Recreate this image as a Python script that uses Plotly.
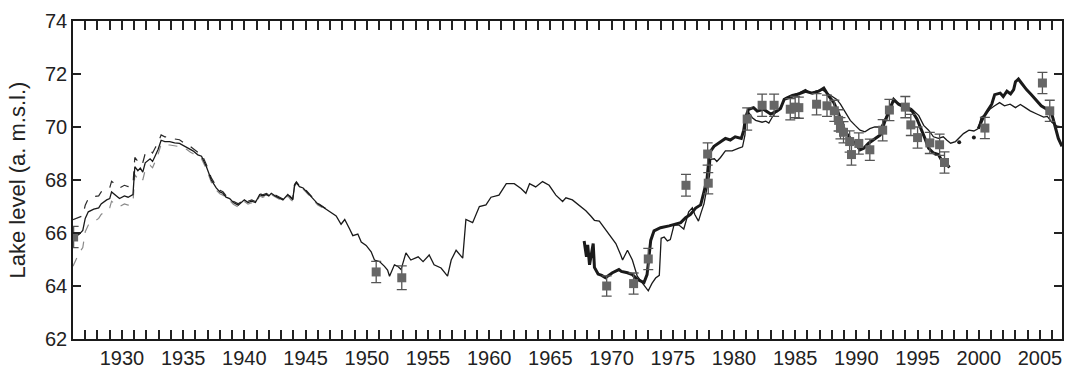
import plotly.graph_objects as go

# Lake level record (m a.m.s.l.)
# Main series: thin solid line 1926-2006
main_year = [
    1926.0, 1926.5, 1926.8, 1927.0, 1927.25, 1927.7, 1928.1, 1928.3, 1928.75, 1929.0,
    1929.15, 1929.55, 1929.8, 1930.2, 1930.5, 1930.9, 1931.05, 1931.3, 1931.5, 1931.7,
    1931.9, 1932.3, 1932.5, 1932.7, 1932.95, 1933.2, 1933.5, 1933.9, 1934.3, 1934.7,
    1935.0, 1935.3, 1935.6, 1935.8, 1936.2, 1936.5, 1936.9, 1937.3, 1937.7, 1938.0,
    1938.25, 1938.5, 1938.8, 1939.1, 1939.5, 1939.8, 1940.0, 1940.3, 1940.6, 1940.9,
    1941.25, 1941.5, 1941.8, 1942.0, 1942.2, 1942.5, 1942.75, 1943.15, 1943.55, 1943.8,
    1943.95, 1944.1, 1944.25, 1944.5, 1944.8, 1945.0, 1945.3, 1945.6, 1946.0, 1946.5,
    1946.96, 1947.2, 1947.5, 1947.9, 1948.2, 1948.6, 1948.86, 1949.27, 1949.55, 1949.95,
    1950.36, 1950.63, 1951.04, 1951.45, 1951.7, 1951.86, 1952.26, 1952.53, 1952.8, 1953.2,
    1953.6, 1954.2, 1954.6, 1955.1, 1955.5, 1956.07, 1956.6, 1956.9, 1957.3, 1957.84,
    1958.1, 1958.65, 1959.2, 1959.74, 1960.15, 1960.8, 1961.4, 1962.05, 1962.6, 1963.0,
    1963.3, 1963.8, 1964.36, 1964.9, 1965.45, 1966.0, 1966.27, 1966.8, 1967.35, 1967.9,
    1968.3, 1968.6, 1969.0, 1969.8, 1970.35, 1970.75, 1970.9, 1971.3, 1971.7, 1972.1,
    1972.5, 1973.0, 1973.3, 1973.6, 1973.9, 1974.05, 1974.3, 1974.56, 1974.8, 1975.1,
    1975.5, 1975.9, 1976.3, 1976.6, 1976.8, 1977.1, 1977.3, 1977.55, 1977.75, 1978.0,
    1978.1, 1978.4, 1978.6, 1978.9, 1979.3, 1979.85, 1980.4, 1980.7, 1980.9, 1980.95,
    1981.2, 1981.5, 1981.77, 1982.0, 1982.3, 1982.6, 1982.85, 1983.1, 1983.4, 1983.8,
    1984.2, 1984.75, 1985.3, 1985.84, 1986.24, 1986.7, 1987.2, 1987.6, 1988.0, 1988.4,
    1988.7, 1989.1, 1989.5, 1989.9, 1990.3, 1990.7, 1991.1, 1991.5, 1992.0, 1992.4,
    1992.75, 1993.0, 1993.4, 1994.0, 1994.5, 1995.1, 1995.5, 1995.9, 1996.3, 1996.7,
    1997.1, 1997.4, 1997.7, 1998.1, 1998.4, 1998.75, 1999.2, 1999.6, 1999.96, 2000.2,
    2000.5, 2000.9, 2001.3, 2001.7, 2002.1, 2002.56, 2003.0, 2003.4, 2003.8, 2004.2,
    2004.74, 2005.3, 2005.6, 2005.97, 2006.4, 2006.8,
]
main_level = [
    65.80, 65.95, 66.10, 66.55, 66.80, 66.90, 66.95, 67.10, 67.25, 67.30,
    67.55, 67.40, 67.30, 67.40, 67.35, 67.45, 68.50, 68.35, 68.45, 68.30,
    68.65, 68.80, 68.70, 68.90, 69.15, 69.50, 69.45, 69.45, 69.40, 69.38,
    69.30, 69.25, 69.15, 69.10, 68.95, 68.90, 68.50, 68.00, 67.70, 67.55,
    67.50, 67.35, 67.30, 67.15, 67.05, 67.15, 67.25, 67.15, 67.20, 67.15,
    67.45, 67.40, 67.45, 67.40, 67.50, 67.40, 67.35, 67.25, 67.45, 67.30,
    67.25, 67.80, 67.90, 67.75, 67.70, 67.60, 67.45, 67.30, 67.10, 66.95,
    66.82, 66.75, 66.64, 66.33, 66.51, 66.15, 65.90, 65.96, 65.66, 65.53,
    65.29, 64.98, 64.92, 64.74, 64.60, 64.37, 64.80, 64.74, 64.62, 65.25,
    64.98, 65.10, 64.92, 65.17, 64.80, 64.68, 64.37, 64.98, 65.35, 65.05,
    66.51, 66.39, 67.00, 67.06, 67.35, 67.43, 67.86, 67.86, 67.68, 67.50,
    67.86, 67.74, 67.94, 67.80, 67.43, 67.19, 67.33, 67.25, 67.06, 66.84,
    66.64, 66.48, 66.45, 65.96, 65.60, 65.17, 64.98, 65.35, 64.98, 64.37,
    64.13, 63.82, 64.10, 64.30, 64.40, 65.80, 65.85, 65.70, 65.75, 66.30,
    66.30, 66.15, 66.80, 66.95, 66.70, 66.45, 66.75, 67.10, 67.60, 68.15,
    68.78, 68.80, 68.70, 68.85, 69.10, 69.10, 69.20, 69.25, 69.70, 70.12,
    70.55, 70.35, 70.25, 70.22, 70.18, 70.22, 70.15, 70.35, 70.55, 70.73,
    71.10, 71.22, 71.28, 71.41, 71.28, 71.35, 71.41, 71.28, 71.16, 71.04,
    70.86, 70.55, 70.25, 70.06, 69.88, 69.82, 69.94, 70.00, 70.00, 70.37,
    70.80, 70.98, 70.90, 70.80, 70.70, 70.43, 70.06, 69.88, 69.63, 69.57,
    69.63, 69.50, 69.39, 69.45, 69.60, 69.75, 69.88, 69.85, 69.94, 70.37,
    70.45, 70.67, 70.80, 70.92, 70.80, 70.86, 70.73, 70.85, 70.73, 70.61,
    70.49, 70.37, 70.40, 70.18, 70.03, 70.00,
]

# Upper / lower bounds of the early reconstruction (dashed)
band_year = [
    1926.0, 1926.5, 1926.8, 1927.0, 1927.25, 1927.7, 1928.1, 1928.3, 1928.75, 1929.0,
    1929.15, 1929.55, 1929.8, 1930.2, 1930.5, 1930.9, 1931.05, 1931.3, 1931.5, 1931.7,
    1931.9, 1932.3, 1932.5, 1932.7, 1932.95, 1933.2, 1933.5, 1933.9, 1934.3, 1934.7,
    1935.0, 1935.3, 1935.6, 1935.8, 1936.2, 1936.5, 1936.9, 1937.3, 1937.7, 1938.0,
    1938.25, 1938.5, 1938.8, 1939.1, 1939.5, 1939.8, 1940.0, 1940.3, 1940.6, 1940.9,
    1941.25, 1941.5, 1941.8, 1942.0, 1942.2, 1942.5, 1942.75, 1943.15, 1943.55, 1943.8,
    1943.95, 1944.1, 1944.25, 1944.5, 1944.8, 1945.0, 1945.3, 1945.6, 1946.0, 1946.5,
    1946.96,
]
upper_level = [
    66.50, 66.60, 66.65, 67.05, 67.30, 67.38, 67.40, 67.55, 67.67, 67.70,
    67.95, 67.80, 67.70, 67.80, 67.75, 67.83, 68.85, 68.70, 68.80, 68.65,
    69.00, 69.13, 69.02, 69.20, 69.40, 69.70, 69.63, 69.61, 69.55, 69.52,
    69.42, 69.37, 69.26, 69.21, 69.05, 69.00, 68.58, 68.08, 67.77, 67.61,
    67.56, 67.41, 67.35, 67.20, 67.10, 67.20, 67.30, 67.20, 67.25, 67.19,
    67.49, 67.44, 67.49, 67.44, 67.54, 67.44, 67.38, 67.28, 67.48, 67.33,
    67.28, 67.83, 67.93, 67.78, 67.73, 67.63, 67.48, 67.33, 67.13, 66.97,
    66.84,
]
lower_level = [
    64.75, 65.25, 65.45, 66.05, 66.30, 66.45, 66.55, 66.70, 66.88, 66.95,
    67.20, 67.05, 67.00, 67.10, 67.05, 67.15, 68.20, 68.05, 68.15, 68.00,
    68.38, 68.55, 68.46, 68.68, 68.97, 69.35, 69.32, 69.32, 69.28, 69.26,
    69.20, 69.15, 69.05, 69.00, 68.85, 68.80, 68.42, 67.92, 67.62, 67.48,
    67.43, 67.28, 67.23, 67.08, 66.98, 67.08, 67.19, 67.09, 67.14, 67.09,
    67.40, 67.35, 67.40, 67.35, 67.45, 67.35, 67.30, 67.20, 67.40, 67.25,
    67.20, 67.76, 67.86, 67.71, 67.66, 67.56, 67.41, 67.26, 67.06, 66.92,
    66.79,
]

# Second series (thick line), 1967-1997
thick_a_year = [
    1967.76, 1967.95, 1968.05, 1968.2, 1968.5, 1968.6, 1968.9, 1969.2, 1969.5, 1970.07,
    1970.6, 1970.8, 1971.3, 1971.7, 1972.1, 1972.65, 1972.9, 1973.06, 1973.2, 1973.47,
    1974.0, 1974.7, 1975.24, 1975.65, 1976.05, 1976.45, 1976.87, 1977.28, 1977.55, 1977.8,
    1977.9, 1977.96, 1978.37, 1978.9, 1979.3, 1979.7, 1980.1, 1980.6, 1980.8, 1980.95,
    1981.2, 1981.6, 1981.9, 1982.4, 1983.0, 1983.5, 1983.8, 1984.1, 1984.75, 1985.4,
    1985.85, 1986.4, 1986.93, 1987.34, 1987.75, 1988.16, 1988.56, 1988.83, 1989.1, 1989.5,
    1989.9, 1990.3, 1990.6, 1991.0, 1991.55, 1991.95, 1992.36, 1992.6, 1992.9, 1993.05,
    1993.45, 1994.0, 1994.54, 1994.95, 1995.36, 1995.6, 1995.9, 1996.3, 1996.7, 1997.0,
    1997.4, 1997.6,
]
thick_a_level = [
    65.70, 65.10, 65.55, 64.80, 65.60, 64.70, 64.45, 64.40, 64.31, 64.50,
    64.62, 64.55, 64.50, 64.43, 64.25, 64.13, 64.43, 65.10, 65.72, 66.08,
    66.20, 66.27, 66.33, 66.39, 66.58, 66.70, 66.94, 67.06, 67.55, 68.04,
    68.53, 69.00, 69.27, 69.45, 69.57, 69.51, 69.63, 69.57, 69.88, 70.37,
    70.67, 70.73, 70.60, 70.67, 70.49, 70.60, 70.70, 71.04, 71.16, 71.28,
    71.35, 71.28, 71.35, 71.47, 71.16, 70.92, 70.49, 70.12, 69.82, 69.57,
    69.39, 69.14, 69.20, 69.39, 69.57, 69.70, 70.25, 70.49, 70.86, 71.04,
    70.86, 70.73, 70.61, 70.30, 69.88, 69.57, 69.20, 69.02, 68.96, 68.72,
    68.60, 68.47,
]

# Thick line, 2000-2006
thick_b_year = [
    1999.96, 2000.3, 2000.7, 2001.06, 2001.3, 2001.75, 2002.0, 2002.3, 2002.6, 2002.85,
    2003.0, 2003.24, 2003.5, 2003.9, 2004.3, 2004.74, 2005.1, 2005.56, 2005.97, 2006.25,
    2006.5, 2006.8,
]
thick_b_level = [
    69.94, 70.30, 70.60, 70.86, 71.22, 71.28, 71.15, 71.35, 71.25, 71.41,
    71.71, 71.81, 71.65, 71.41, 71.22, 70.98, 70.80, 70.67, 70.49, 70.00,
    69.57, 69.27,
]

# Isolated values between the two thick segments
gap_year = [1998.4, 1999.6]
gap_level = [69.42, 69.60]

# Independent measurements with uncertainty
obs_year = [
    1926.05, 1950.77, 1952.86, 1969.6, 1971.8, 1973.0, 1976.08, 1977.9, 1977.85, 1981.08,
    1982.3, 1983.28, 1984.6, 1985.0, 1985.3, 1986.75, 1987.6, 1988.2, 1988.55, 1988.7,
    1988.95, 1989.45, 1989.6, 1990.2, 1991.1, 1992.15, 1992.7, 1994.0, 1994.45, 1995.0,
    1996.0, 1996.8, 1997.2, 2000.5, 2005.2, 2005.8,
]
obs_level = [
    65.85, 64.53, 64.31, 64.00, 64.09, 65.02, 67.80, 67.88, 68.98, 70.30,
    70.82, 70.82, 70.67, 70.75, 70.73, 70.86, 70.80, 70.61, 70.25, 69.95,
    69.80, 69.45, 68.96, 69.38, 69.14, 69.88, 70.64, 70.75, 70.08, 69.60,
    69.40, 69.33, 68.66, 69.96, 71.66, 70.61,
]
obs_err = [
    0.40, 0.40, 0.45, 0.38, 0.40, 0.40, 0.41, 0.40, 0.42, 0.42,
    0.42, 0.42, 0.40, 0.40, 0.40, 0.40, 0.40, 0.40, 0.40, 0.40,
    0.40, 0.40, 0.40, 0.40, 0.40, 0.40, 0.40, 0.40, 0.40, 0.40,
    0.40, 0.40, 0.40, 0.40, 0.40, 0.40,
]

X_RANGE = [1926, 2006.8]
Y_RANGE = [62, 74]

INK = "#1a1a1a"
TICK = "#222222"
TEXT = "#222222"
FONT = "Liberation Sans"

fig = go.Figure()

fig.add_trace(go.Scatter(
    x=band_year, y=lower_level, mode="lines",
    line=dict(color="#8a8a8a", width=1.2, dash="dash"),
))
fig.add_trace(go.Scatter(
    x=band_year, y=upper_level, mode="lines",
    line=dict(color="#2a2a2a", width=1.2, dash="dash"),
))
fig.add_trace(go.Scatter(
    x=main_year, y=main_level, mode="lines",
    line=dict(color=INK, width=1.3),
))
fig.add_trace(go.Scatter(
    x=thick_a_year, y=thick_a_level, mode="lines",
    line=dict(color=INK, width=3),
))
fig.add_trace(go.Scatter(
    x=thick_b_year, y=thick_b_level, mode="lines",
    line=dict(color=INK, width=3),
))
fig.add_trace(go.Scatter(
    x=gap_year, y=gap_level, mode="markers",
    marker=dict(color=INK, size=4),
))
fig.add_trace(go.Scatter(
    x=obs_year, y=obs_level, mode="markers",
    marker=dict(symbol="square", size=9, color="#666666"),
    error_y=dict(type="data", array=obs_err, visible=True,
                 color="#555555", thickness=1.3, width=5),
))

fig.update_layout(
    width=1069, height=374,
    margin=dict(l=73, r=5, t=21, b=26),
    plot_bgcolor="white", paper_bgcolor="white",
    showlegend=False,
    xaxis=dict(
        range=X_RANGE, tick0=1930, dtick=5,
        ticks="inside", ticklen=9, tickwidth=1.5, tickcolor=TICK,
        minor=dict(dtick=1, ticks="inside", ticklen=9, tickwidth=1.5,
                   tickcolor=TICK),
        showline=True, linecolor=INK, linewidth=1.5, mirror="allticks",
        showgrid=False, zeroline=False,
        tickfont=dict(size=20, family=FONT, color=TEXT),
    ),
    yaxis=dict(
        range=Y_RANGE, dtick=2,
        ticks="inside", ticklen=8, tickwidth=1.5, tickcolor=TICK,
        showline=True, linecolor=INK, linewidth=1.5, mirror="allticks",
        showgrid=False, zeroline=False,
        tickfont=dict(size=20, family=FONT, color=TEXT),
    ),
    # y-axis caption placed in the left margin, rotated
    annotations=[dict(
        text="Lake level (a. m.s.l.)", textangle=-90,
        xref="paper", yref="paper", x=0, y=0.5,
        xanchor="right", yanchor="middle", xshift=-42, showarrow=False,
        font=dict(size=22, family=FONT, color=TEXT),
    )],
)

fig.write_html("out.html")
